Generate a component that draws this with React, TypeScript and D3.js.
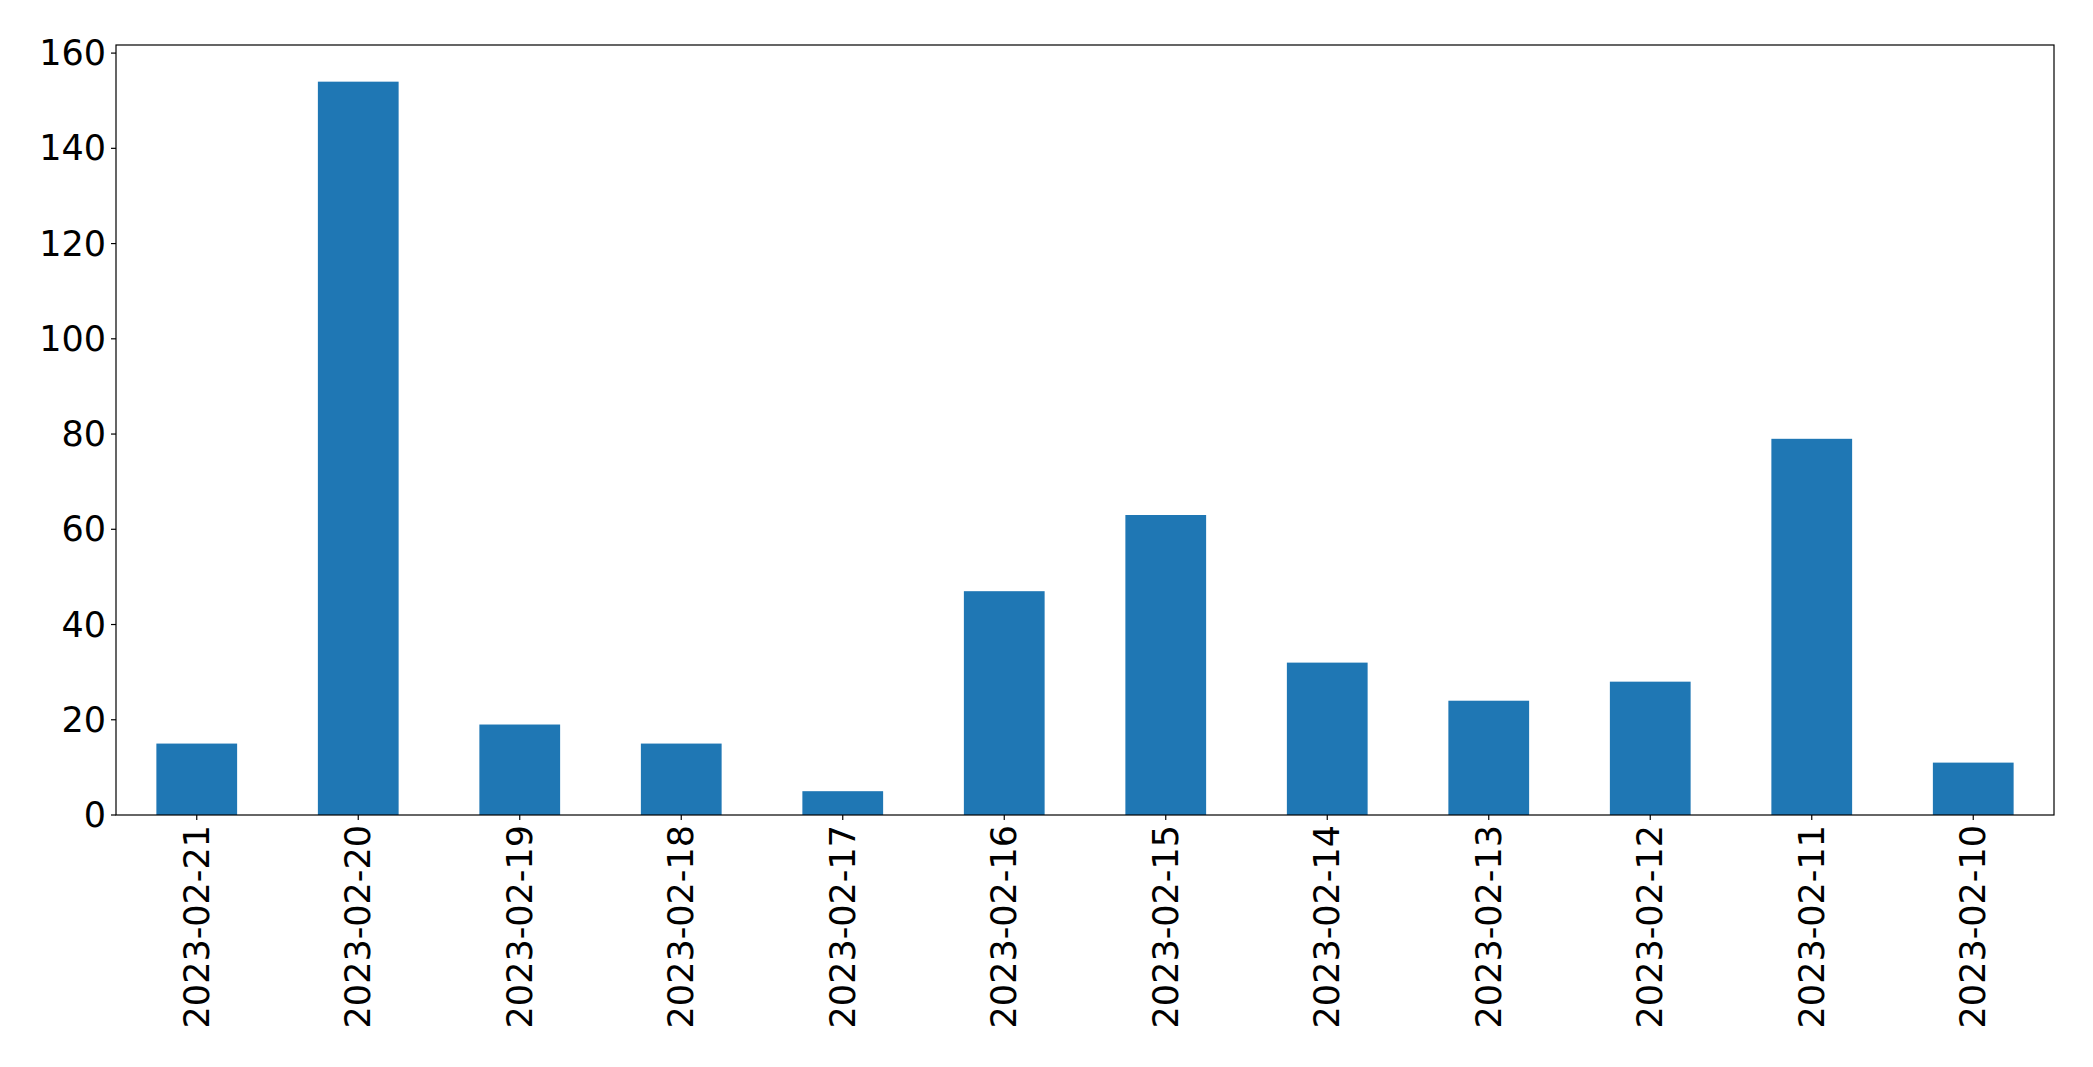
import React from "react";
import * as d3 from "d3";

const categories = [
  "2023-02-21", "2023-02-20", "2023-02-19", "2023-02-18", "2023-02-17", "2023-02-16",
  "2023-02-15", "2023-02-14", "2023-02-13", "2023-02-12", "2023-02-11", "2023-02-10",
];
const values = [15, 154, 19, 15, 5, 47, 63, 32, 24, 28, 79, 11];
const yTicks = [0, 20, 40, 60, 80, 100, 120, 140, 160];

const W = 2093;
const H = 1067;
const left = 116;
const right = 2054;
const top = 45;
const bottom = 815;
const FONT = "'DejaVu Sans', sans-serif";
const FS = 35;

export default function App() {
  const x = d3.scaleLinear().domain([-0.5, categories.length - 0.5]).range([left, right]);
  const y = d3.scaleLinear().domain([0, d3.max(values)! * 1.05]).range([bottom, top]);
  const bw = x(0.25) - x(-0.25);
  return (
    <svg width={W} height={H} style={{ position: "absolute", left: 0, top: 0, background: "#fff" }}>
      <rect x={0} y={0} width={W} height={H} fill="#fff" />
      {values.map((v, i) => (
        <rect key={i} x={x(i) - bw / 2} y={y(v)} width={bw} height={y(0) - y(v)} fill="#1f77b4" />
      ))}
      <rect x={left} y={top} width={right - left} height={bottom - top} fill="none" stroke="#000" strokeWidth={1.2} />
      {yTicks.map((t) => (
        <g key={t}>
          <line x1={left - 5} x2={left} y1={y(t)} y2={y(t)} stroke="#000" strokeWidth={1.2} />
          <text x={left - 10} y={y(t)} textAnchor="end" dominantBaseline="central" fontFamily={FONT} fontSize={FS} fill="#000">
            {t}
          </text>
        </g>
      ))}
      {categories.map((c, i) => (
        <g key={c}>
          <line x1={x(i)} x2={x(i)} y1={bottom} y2={bottom + 5} stroke="#000" strokeWidth={1.2} />
          <text
            transform={`translate(${x(i)},${bottom + 10}) rotate(-90)`}
            textAnchor="end"
            dominantBaseline="central"
            fontFamily={FONT}
            fontSize={FS}
            fill="#000"
          >
            {c}
          </text>
        </g>
      ))}
    </svg>
  );
}
